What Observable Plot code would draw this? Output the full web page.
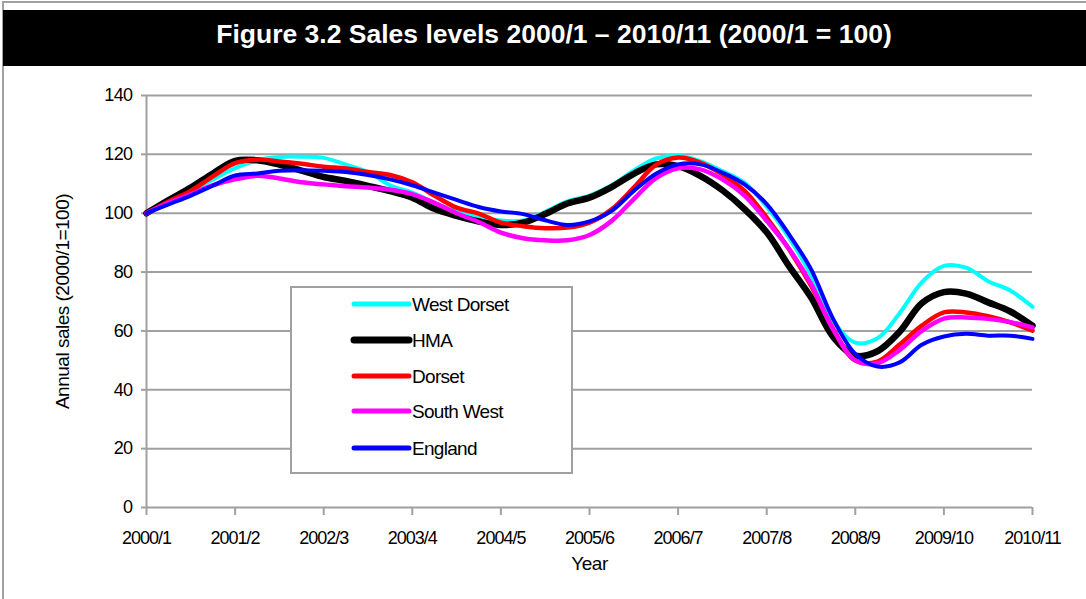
<!DOCTYPE html>
<html>
<head>
<meta charset="utf-8">
<script src="https://cdn.jsdelivr.net/npm/d3@7"></script>
<script src="https://cdn.jsdelivr.net/npm/@observablehq/plot@0.6"></script>
<style>
  html, body { margin: 0; padding: 0; background: #fff; }
  #wrap { position: relative; width: 1086px; height: 599px; overflow: hidden; font-family: "Liberation Sans", Arial, sans-serif; }
  #frame { position: absolute; left: 2px; top: 1px; width: 1090px; height: 610px; border-left: 2px solid #a0a0a0; border-top: 2px solid #a0a0a0; }
  #title { position: absolute; left: 3px; top: 10px; width: 1083px; height: 56px; background: #000; color: #fff; box-sizing: border-box;
           padding-left: 19px; font-weight: bold; font-size: 26.5px; line-height: 49px; text-align: center; }
  #chart { position: absolute; left: 0; top: 80px; }
  #chart g[aria-label="x-axis tick label"] text { letter-spacing: -1px; }
  #chart g[aria-label="y-axis tick label"] text { letter-spacing: -0.6px; }
  #chart g[aria-label="text"] text { letter-spacing: -0.5px; }
  #legend { position: absolute; left: 290px; top: 286px; width: 279px; height: 184px; border: 2px solid #a0a0a0; background: #fff; }
  #legend svg { position: absolute; left: 0; top: 0; }
  #legend text { letter-spacing: -0.7px; }
</style>
</head>
<body>
<div id="wrap">
  <div id="frame"></div>
  <div id="title">Figure 3.2 Sales levels 2000/1 – 2010/11 (2000/1 = 100)</div>
  <div id="chart"></div>
  <div id="legend"></div>
</div>
<script>
// x positions in label units (0 = 2000/1, 10 = 2010/11), sampled every quarter of a label interval
const positions = [0,0.25,0.5,0.75,1,1.25,1.5,1.75,2,2.25,2.5,2.75,3,3.25,3.5,3.75,4,4.25,4.5,4.75,5,
  5.25,5.5,5.75,6,6.25,6.5,6.75,7,7.25,7.5,7.75,8,8.25,8.5,8.75,9,9.25,9.5,9.75,10];

const tickLabels = ["2000/1","2001/2","2002/3","2003/4","2004/5","2005/6","2006/7","2007/8","2008/9","2009/10","2010/11"];

const westDorset = [100,104,107.6,111.5,115.3,118,119.1,119.2,118.8,116.5,114,109.5,107,103.5,100.5,98.5,97.5,97.5,100.5,104,106,
  109.5,114.5,118.6,119.5,117.7,114.3,110.4,102.2,91.8,79,63.5,56,57.5,66,76.5,82.1,81.5,76.9,73.7,68.2];
const hma = [100,104.5,108.7,113.5,117.8,118,116.5,114.5,112.3,111,109.3,107.5,105.3,101.5,99.1,97.2,96,96.8,99.7,103.3,105.3,
  108.9,113.4,116.6,116,112.7,107.8,101.4,93.5,82.1,71.4,58,51.6,53.1,59.7,69.4,73.2,72.7,69.7,66.6,61.8];
const dorset = [100,104,107.6,112.5,117,118.2,117.6,116.8,115.8,115.2,114,113,110.5,106,101.9,99.9,96.8,95.6,94.9,95.1,96.8,
  101.3,108.7,116.4,118.9,117.2,113.2,107.6,98.5,87.8,75.4,60.7,49.9,49.6,55.4,61.8,66.3,66.3,65,62.9,60.1];
const southWest = [100,103.5,106.4,109.5,111.5,112.7,111.8,110.5,109.8,109.2,108.7,108,106.5,103.5,100,97,93.4,91.5,90.8,90.8,92.6,
  97.4,104.8,111.9,115.3,114.9,111.5,106,97.4,88,76,60.5,50,49,53.5,60,64.2,64.6,64.1,63,61.2];
const england = [100,103,106,109.4,112.8,113.5,114.4,114.6,114.4,114,113,111.5,109.5,107,104.5,102.1,100.6,99.7,97.6,96,97.2,
  100.8,107.6,113.4,116.6,116.6,113.8,109.8,103.1,92.9,81,64.1,52.2,47.9,49.3,55.3,58.1,59,58.4,58.4,57.3];

const seriesNames = ["West Dorset","HMA","Dorset","South West","England"];
const seriesValues = [westDorset, hma, dorset, southWest, england];
const seriesColors = ["#00FFFF","#000000","#FF0000","#FF00FF","#0000FF"];
const seriesWidths = [4, 6.5, 4.5, 4.5, 4];

const yTicks = [0,20,40,60,80,100,120,140];

const rows = [];
seriesNames.forEach((name, s) => {
  seriesValues[s].forEach((v, i) => rows.push({series: name, t: positions[i], v}));
});

const grey = "#a0a0a0";
const font = "\"Liberation Sans\", Arial, sans-serif";

const chart = Plot.plot({
  width: 1086,
  height: 519,
  marginLeft: 146,
  marginRight: 54,
  marginTop: 15,
  marginBottom: 92,
  style: {fontFamily: font, fontSize: "18px", background: "transparent", color: "#000"},
  x: {domain: [0, 10]},
  y: {domain: [0, 140]},
  marks: [
    Plot.gridY(yTicks, {stroke: grey, strokeOpacity: 1, strokeWidth: 2}),
    Plot.ruleX([0], {stroke: grey, strokeWidth: 2}),
    Plot.axisY(yTicks, {tickSize: 5, tickPadding: 9, stroke: grey, strokeWidth: 2, fill: "#000", fontSize: 18, label: null}),
    Plot.axisX(tickLabels.map((d, i) => i), {tickSize: 8, tickPadding: 16, stroke: grey, strokeWidth: 2, fill: "#000", fontSize: 18,
      tickFormat: i => tickLabels[i], label: null}),
    ...seriesNames.map((name, s) => Plot.line(rows.filter(d => d.series === name), {
      x: "t", y: "v", stroke: seriesColors[s], strokeWidth: seriesWidths[s], curve: "catmull-rom",
      strokeLinejoin: "round", strokeLinecap: "round"
    })),
    Plot.text(["Annual sales (2000/1=100)"], {frameAnchor: "left", textAnchor: "middle", rotate: -90, dx: -84, fontSize: 19, fill: "#000"}),
    Plot.text(["Year"], {frameAnchor: "bottom", textAnchor: "middle", dy: 62, fontSize: 19, fill: "#000"})
  ]
});
document.getElementById("chart").appendChild(chart);

// legend
const lg = d3.select("#legend").append("svg").attr("width", 279).attr("height", 184);
const rowY = [16, 52, 88, 123, 160];
seriesNames.forEach((name, s) => {
  lg.append("line").attr("x1", 62).attr("x2", 117).attr("y1", rowY[s]).attr("y2", rowY[s])
    .attr("stroke", seriesColors[s]).attr("stroke-width", s === 1 ? 7 : 5).attr("stroke-linecap", "round");
  lg.append("text").attr("x", 120).attr("y", rowY[s]).attr("dy", "0.36em")
    .attr("font-family", font).attr("font-size", 19).attr("fill", "#000").text(name);
});
</script>
</body>
</html>
